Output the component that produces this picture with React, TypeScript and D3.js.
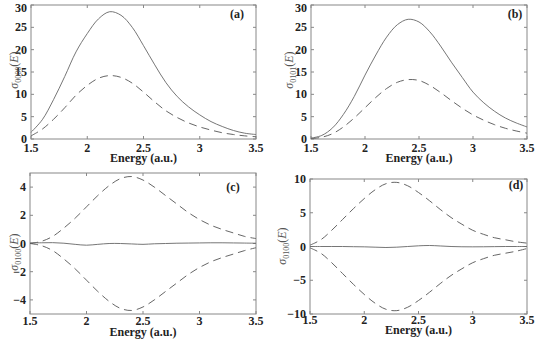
import React from 'react';
import * as d3 from 'd3';

// energies shared by all four panels
const energy = [1.5, 1.6, 1.7, 1.8, 1.9, 2.0, 2.1, 2.2, 2.3, 2.4, 2.5, 2.6, 2.7, 2.8, 2.9, 3.0, 3.1, 3.2, 3.3, 3.4, 3.5];

// (a) sigma_0000
const aSolid = [1.5, 4.3, 8.8, 14, 19.5, 23.6, 26.9, 28.5, 27.7, 25.0, 20.9, 16.6, 12.6, 9.5, 7.2, 5.4, 3.9, 2.8, 1.9, 1.3, 1.0];
const aDashed = [0.7, 2.2, 4.4, 7.0, 9.8, 12.0, 13.6, 14.2, 13.8, 12.5, 10.5, 8.3, 6.3, 4.8, 3.6, 2.7, 2.0, 1.4, 1.0, 0.7, 0.5];

// (b) sigma_0101
const bSolid = [0.2, 0.8, 2.5, 5.5, 9.5, 14.3, 18.8, 22.8, 25.6, 26.8, 26.2, 24.0, 20.8, 17.2, 13.8, 10.5, 8.1, 6.2, 4.7, 3.6, 2.7];
const bDashed = [0.1, 0.4, 1.2, 2.7, 4.7, 7.0, 9.3, 11.3, 12.7, 13.3, 13.1, 12.0, 10.4, 8.6, 6.9, 5.4, 4.2, 3.2, 2.4, 1.8, 1.3];

// (c) sigma_0100
const cSolid = [0.05, 0.05, 0.06, 0.02, -0.06, -0.12, -0.06, 0.0, 0.0, -0.03, -0.06, -0.02, 0.0, 0.02, 0.03, 0.04, 0.05, 0.05, 0.04, 0.03, 0.02];
const cUpper = [0.0, 0.15, 0.5, 1.1, 1.8, 2.6, 3.4, 4.1, 4.6, 4.75, 4.5, 4.0, 3.4, 2.8, 2.2, 1.7, 1.3, 1.0, 0.75, 0.5, 0.35];
const cLower = [0.0, -0.15, -0.5, -1.1, -1.8, -2.6, -3.4, -4.1, -4.6, -4.75, -4.5, -4.0, -3.4, -2.8, -2.2, -1.7, -1.3, -1.0, -0.75, -0.5, -0.3];

// (d) sigma_0100
const dSolid = [0.0, 0.0, 0.0, 0.0, -0.03, -0.05, -0.1, -0.15, -0.1, 0.0, 0.1, 0.15, 0.08, 0.0, -0.04, -0.05, -0.04, -0.02, 0.0, 0.0, 0.0];
const dUpper = [0.2, 1.0, 2.4, 4.0, 5.6, 7.1, 8.4, 9.3, 9.5, 9.0, 8.0, 6.8, 5.5, 4.3, 3.3, 2.4, 1.8, 1.3, 1.0, 0.7, 0.5];
const dLower = [-0.2, -1.0, -2.4, -4.0, -5.6, -7.1, -8.4, -9.3, -9.5, -9.0, -8.0, -6.8, -5.5, -4.3, -3.3, -2.4, -1.8, -1.3, -1.0, -0.7, -0.3];

const xTicks = [1.5, 2, 2.5, 3, 3.5];
const xTickLabels = ['1.5', '2', '2.5', '3', '3.5'];
const panelTags = ['(a)', '(b)', '(c)', '(d)'];
const ySubs = ['0000', '0101', '0100', '0100'];

const FONT = '"Liberation Serif", "Times New Roman", Times, serif';

type Panel = {
  box: { x0: number; x1: number; y0: number; y1: number };
  yDomain: [number, number];
  yTicks: number[];
  solid: number[];
  dashed: number[][];
  tickY: number;
  labelY: number;
  yLabelX: number;
  yLabelY: number;
  tagX: number;
  tagY: number;
};

const panels: Panel[] = [
  {
    box: { x0: 31, x1: 256, y0: 5, y1: 139 },
    yDomain: [0, 30], yTicks: [0, 5, 10, 15, 20, 25, 30],
    solid: aSolid, dashed: [aDashed],
    tickY: 152, labelY: 162, yLabelX: 14, yLabelY: 70, tagX: 237, tagY: 18,
  },
  {
    box: { x0: 311, x1: 527, y0: 5, y1: 139 },
    yDomain: [0, 30], yTicks: [0, 5, 10, 15, 20, 25, 30],
    solid: bSolid, dashed: [bDashed],
    tickY: 152, labelY: 162, yLabelX: 289, yLabelY: 70, tagX: 515, tagY: 18,
  },
  {
    box: { x0: 30, x1: 256, y0: 173, y1: 314 },
    yDomain: [-5, 5], yTicks: [-4, -2, 0, 2, 4],
    solid: cSolid, dashed: [cUpper, cLower],
    tickY: 325, labelY: 336, yLabelX: 14, yLabelY: 252, tagX: 233, tagY: 191,
  },
  {
    box: { x0: 310, x1: 527, y0: 179, y1: 314 },
    yDomain: [-10, 10], yTicks: [-10, -5, 0, 5, 10],
    solid: dSolid, dashed: [dUpper, dLower],
    tickY: 324, labelY: 334, yLabelX: 282, yLabelY: 246, tagX: 516, tagY: 189,
  },
];

const fmtY = (v: number) => (v < 0 ? '\u2212' + Math.abs(v) : String(v));

const ChartPanel = ({ p, i }: { p: Panel; i: number }) => {
  const { x0, x1, y0, y1 } = p.box;
  const x = d3.scaleLinear().domain([1.5, 3.5]).range([x0, x1]);
  const y = d3.scaleLinear().domain(p.yDomain).range([y1, y0]);
  const line = d3
    .line<number>()
    .x((_, k) => x(energy[k]))
    .y((d) => y(d))
    .curve(d3.curveCatmullRom);
  const tl = 3;
  const txt = { fontFamily: FONT };
  return (
    <g>
      <rect x={x0} y={y0} width={x1 - x0} height={y1 - y0} fill="none" stroke="#888" strokeWidth={1} />
      {xTicks.map((t) => (
        <g key={'x' + t}>
          <line x1={x(t)} x2={x(t)} y1={y1} y2={y1 - tl} stroke="#888" />
          <line x1={x(t)} x2={x(t)} y1={y0} y2={y0 + tl} stroke="#888" />
        </g>
      ))}
      {p.yTicks.map((t) => (
        <g key={'y' + t}>
          <line x1={x0} x2={x0 + tl} y1={y(t)} y2={y(t)} stroke="#888" />
          <line x1={x1} x2={x1 - tl} y1={y(t)} y2={y(t)} stroke="#888" />
          {/* top label sits a little lower so it stays on the page */}
          <text x={x0 - 4} y={Math.max(y(t) + 4, 12)} textAnchor="end" fontSize={12} style={txt} fontWeight="bold" fill="#222">
            {fmtY(t)}
          </text>
        </g>
      ))}
      {xTicks.map((t, k) => (
        <text key={'xl' + t} x={x(t)} y={p.tickY} textAnchor="middle" fontSize={12} style={txt} fontWeight="bold" fill="#222">
          {xTickLabels[k]}
        </text>
      ))}
      {p.dashed.map((s, k) => (
        <path key={'d' + k} d={line(s) || ''} fill="none" stroke="#555" strokeWidth={0.9} strokeDasharray="8,5" />
      ))}
      <path d={line(p.solid) || ''} fill="none" stroke="#666" strokeWidth={0.9} />
      <text x={(x0 + x1) / 2} y={p.labelY} textAnchor="middle" fontSize={12} style={txt} fontWeight="bold" fill="#222">
        Energy  (a.u.)
      </text>
      <text
        transform={`translate(${p.yLabelX},${p.yLabelY}) rotate(-90)`}
        textAnchor="middle"
        dy="0.35em"
        fontSize={12}
        style={txt}
        fill="#555"
      >
        <tspan fontStyle="italic">σ</tspan>
        <tspan fontSize={8} dy={3}>{ySubs[i]}</tspan>
        <tspan dy={-3}>(</tspan>
        <tspan fontStyle="italic">E</tspan>
        <tspan>)</tspan>
      </text>
      <text x={p.tagX} y={p.tagY} textAnchor="middle" fontSize={12} style={txt} fontWeight="bold" fill="#222">
        {panelTags[i]}
      </text>
    </g>
  );
};

export default function App() {
  return (
    <svg width={540} height={340} style={{ position: 'absolute', left: 0, top: 0, background: '#fff' }}>
      {panels.map((p, i) => (
        <ChartPanel key={i} p={p} i={i} />
      ))}
    </svg>
  );
}
